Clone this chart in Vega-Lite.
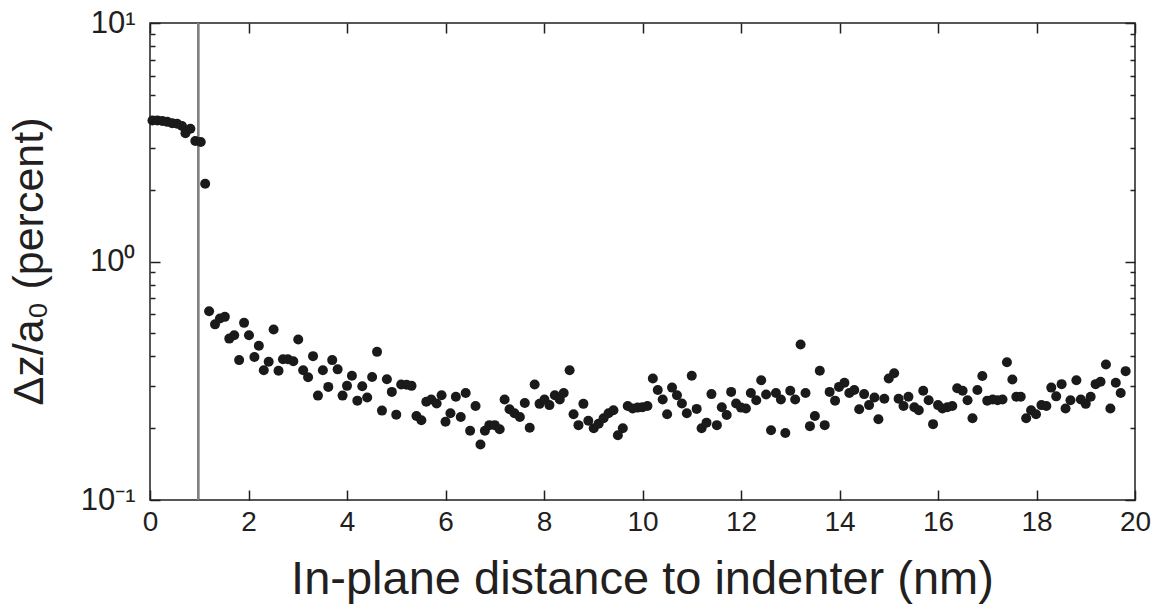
{
  "$schema": "https://vega.github.io/schema/vega-lite/v6.json",
  "width": 985,
  "height": 477,
  "autosize": {"type": "none"},
  "padding": {"left": 150, "top": 23, "right": 27, "bottom": 104},
  "background": "white",
  "config": {
    "view": {"stroke": "#231f20", "strokeWidth": 1.5},
    "axis": {
      "labelFont": "Liberation Sans",
      "titleFont": "Liberation Sans",
      "grid": false,
      "domain": false,
      "labelFlush": false,
      "tickColor": "#231f20",
      "tickWidth": 1.5,
      "labelColor": "#231f20",
      "titleColor": "#231f20",
      "titleFontWeight": "normal"
    }
  },
  "data": {
    "values": [
      {"x": 0.05, "y": 3.9}, {"x": 0.15, "y": 3.9}, {"x": 0.25, "y": 3.88}, {"x": 0.35, "y": 3.85},
      {"x": 0.45, "y": 3.8}, {"x": 0.55, "y": 3.78}, {"x": 0.65, "y": 3.7}, {"x": 0.72, "y": 3.45},
      {"x": 0.82, "y": 3.6}, {"x": 0.92, "y": 3.2}, {"x": 1.03, "y": 3.17}, {"x": 1.12, "y": 2.12},
      {"x": 1.2, "y": 0.619}, {"x": 1.32, "y": 0.545}, {"x": 1.42, "y": 0.577}, {"x": 1.52, "y": 0.586},
      {"x": 1.61, "y": 0.475}, {"x": 1.71, "y": 0.491}, {"x": 1.81, "y": 0.386}, {"x": 1.91, "y": 0.553},
      {"x": 2.01, "y": 0.491}, {"x": 2.12, "y": 0.398}, {"x": 2.21, "y": 0.443}, {"x": 2.31, "y": 0.35},
      {"x": 2.41, "y": 0.38}, {"x": 2.51, "y": 0.519}, {"x": 2.61, "y": 0.348}, {"x": 2.7, "y": 0.389},
      {"x": 2.8, "y": 0.389}, {"x": 2.91, "y": 0.382}, {"x": 3.01, "y": 0.471}, {"x": 3.11, "y": 0.35},
      {"x": 3.21, "y": 0.327}, {"x": 3.31, "y": 0.401}, {"x": 3.41, "y": 0.274}, {"x": 3.51, "y": 0.35},
      {"x": 3.62, "y": 0.298}, {"x": 3.7, "y": 0.386}, {"x": 3.81, "y": 0.353}, {"x": 3.91, "y": 0.274},
      {"x": 4.0, "y": 0.301}, {"x": 4.1, "y": 0.332}, {"x": 4.21, "y": 0.261}, {"x": 4.31, "y": 0.3},
      {"x": 4.41, "y": 0.269}, {"x": 4.51, "y": 0.328}, {"x": 4.61, "y": 0.418}, {"x": 4.71, "y": 0.237},
      {"x": 4.81, "y": 0.321}, {"x": 4.91, "y": 0.284}, {"x": 5.0, "y": 0.228}, {"x": 5.1, "y": 0.305},
      {"x": 5.21, "y": 0.304}, {"x": 5.31, "y": 0.301}, {"x": 5.41, "y": 0.225}, {"x": 5.51, "y": 0.216},
      {"x": 5.61, "y": 0.258}, {"x": 5.71, "y": 0.264}, {"x": 5.82, "y": 0.254}, {"x": 5.92, "y": 0.275},
      {"x": 6.0, "y": 0.213}, {"x": 6.1, "y": 0.231}, {"x": 6.21, "y": 0.271}, {"x": 6.31, "y": 0.223},
      {"x": 6.41, "y": 0.281}, {"x": 6.5, "y": 0.195}, {"x": 6.61, "y": 0.248}, {"x": 6.71, "y": 0.171},
      {"x": 6.8, "y": 0.195}, {"x": 6.89, "y": 0.206}, {"x": 7.0, "y": 0.206}, {"x": 7.1, "y": 0.198},
      {"x": 7.2, "y": 0.264}, {"x": 7.3, "y": 0.24}, {"x": 7.4, "y": 0.231}, {"x": 7.51, "y": 0.223},
      {"x": 7.61, "y": 0.255}, {"x": 7.71, "y": 0.201}, {"x": 7.81, "y": 0.305}, {"x": 7.91, "y": 0.253},
      {"x": 8.01, "y": 0.264}, {"x": 8.11, "y": 0.25}, {"x": 8.22, "y": 0.275}, {"x": 8.32, "y": 0.264},
      {"x": 8.4, "y": 0.281}, {"x": 8.52, "y": 0.35}, {"x": 8.6, "y": 0.229}, {"x": 8.7, "y": 0.206},
      {"x": 8.8, "y": 0.253}, {"x": 8.9, "y": 0.215}, {"x": 9.01, "y": 0.2}, {"x": 9.11, "y": 0.209},
      {"x": 9.21, "y": 0.22}, {"x": 9.31, "y": 0.231}, {"x": 9.41, "y": 0.238}, {"x": 9.5, "y": 0.187},
      {"x": 9.6, "y": 0.2}, {"x": 9.7, "y": 0.248}, {"x": 9.8, "y": 0.242}, {"x": 9.9, "y": 0.244},
      {"x": 10.0, "y": 0.245}, {"x": 10.1, "y": 0.248}, {"x": 10.21, "y": 0.323}, {"x": 10.31, "y": 0.289},
      {"x": 10.41, "y": 0.264}, {"x": 10.5, "y": 0.229}, {"x": 10.6, "y": 0.296}, {"x": 10.7, "y": 0.275},
      {"x": 10.8, "y": 0.254}, {"x": 10.9, "y": 0.231}, {"x": 11.0, "y": 0.332}, {"x": 11.1, "y": 0.241},
      {"x": 11.2, "y": 0.2}, {"x": 11.3, "y": 0.211}, {"x": 11.4, "y": 0.278}, {"x": 11.51, "y": 0.206},
      {"x": 11.61, "y": 0.245}, {"x": 11.71, "y": 0.227}, {"x": 11.8, "y": 0.284}, {"x": 11.9, "y": 0.254},
      {"x": 12.0, "y": 0.244}, {"x": 12.1, "y": 0.242}, {"x": 12.2, "y": 0.281}, {"x": 12.31, "y": 0.262},
      {"x": 12.41, "y": 0.318}, {"x": 12.51, "y": 0.277}, {"x": 12.61, "y": 0.196}, {"x": 12.71, "y": 0.281},
      {"x": 12.81, "y": 0.264}, {"x": 12.9, "y": 0.191}, {"x": 13.0, "y": 0.287}, {"x": 13.1, "y": 0.264},
      {"x": 13.21, "y": 0.449}, {"x": 13.31, "y": 0.281}, {"x": 13.4, "y": 0.204}, {"x": 13.5, "y": 0.225},
      {"x": 13.6, "y": 0.348}, {"x": 13.7, "y": 0.206}, {"x": 13.8, "y": 0.284}, {"x": 13.91, "y": 0.261},
      {"x": 13.99, "y": 0.298}, {"x": 14.1, "y": 0.31}, {"x": 14.2, "y": 0.281}, {"x": 14.3, "y": 0.289},
      {"x": 14.4, "y": 0.24}, {"x": 14.5, "y": 0.278}, {"x": 14.6, "y": 0.25}, {"x": 14.71, "y": 0.269},
      {"x": 14.79, "y": 0.218}, {"x": 14.91, "y": 0.266}, {"x": 15.0, "y": 0.323}, {"x": 15.11, "y": 0.34},
      {"x": 15.2, "y": 0.266}, {"x": 15.3, "y": 0.248}, {"x": 15.4, "y": 0.271}, {"x": 15.52, "y": 0.245},
      {"x": 15.61, "y": 0.238}, {"x": 15.7, "y": 0.287}, {"x": 15.81, "y": 0.262}, {"x": 15.9, "y": 0.208},
      {"x": 16.0, "y": 0.25}, {"x": 16.09, "y": 0.242}, {"x": 16.19, "y": 0.245}, {"x": 16.29, "y": 0.248},
      {"x": 16.39, "y": 0.294}, {"x": 16.5, "y": 0.287}, {"x": 16.6, "y": 0.262}, {"x": 16.7, "y": 0.22},
      {"x": 16.8, "y": 0.289}, {"x": 16.9, "y": 0.331}, {"x": 17.0, "y": 0.261}, {"x": 17.11, "y": 0.264},
      {"x": 17.21, "y": 0.262}, {"x": 17.31, "y": 0.264}, {"x": 17.4, "y": 0.378}, {"x": 17.51, "y": 0.32},
      {"x": 17.59, "y": 0.271}, {"x": 17.68, "y": 0.271}, {"x": 17.79, "y": 0.22}, {"x": 17.89, "y": 0.238},
      {"x": 17.99, "y": 0.229}, {"x": 18.1, "y": 0.25}, {"x": 18.2, "y": 0.248}, {"x": 18.3, "y": 0.296},
      {"x": 18.4, "y": 0.272}, {"x": 18.51, "y": 0.306}, {"x": 18.59, "y": 0.242}, {"x": 18.69, "y": 0.262},
      {"x": 18.81, "y": 0.318}, {"x": 18.9, "y": 0.264}, {"x": 19.0, "y": 0.253}, {"x": 19.1, "y": 0.271},
      {"x": 19.2, "y": 0.306}, {"x": 19.3, "y": 0.313}, {"x": 19.41, "y": 0.37}, {"x": 19.5, "y": 0.242},
      {"x": 19.61, "y": 0.31}, {"x": 19.71, "y": 0.281}, {"x": 19.81, "y": 0.347}
    ]
  },
  "resolve": {"axis": {"x": "independent", "y": "independent"}},
  "layer": [
    {
      "mark": {"type": "rule", "color": "#808080", "strokeWidth": 1.5},
      "encoding": {
        "x": {
          "datum": 0.98,
          "type": "quantitative",
          "scale": {"domain": [0, 20], "nice": false, "zero": false},
          "axis": {"orient": "top", "values": [0, 2, 4, 6, 8, 10, 12, 14, 16, 18, 20], "tickSize": -10, "labels": false, "title": null}
        }
      }
    },
    {
      "mark": {"type": "circle", "size": 100, "color": "#1a1a1a", "opacity": 1},
      "encoding": {
        "x": {
          "field": "x",
          "type": "quantitative",
          "scale": {"domain": [0, 20], "nice": false, "zero": false},
          "axis": {
            "orient": "bottom",
            "values": [0, 2, 4, 6, 8, 10, 12, 14, 16, 18, 20],
            "tickSize": -10,
            "labelPadding": 18,
            "labelFontSize": 28,
            "title": "In-plane distance to indenter (nm)",
            "titleFontSize": 47,
            "titleX": 492,
            "titleY": 93,
            "titleBaseline": "alphabetic"
          }
        },
        "y": {
          "field": "y",
          "type": "quantitative",
          "scale": {"type": "log", "domain": [0.1, 10], "nice": false},
          "axis": {
            "orient": "left",
            "values": [0.1, 1, 10],
            "tickSize": -10,
            "labelPadding": 25,
            "labelFontSize": 31,
            "labelExpr": "datum.value >= 5 ? '10¹' : datum.value >= 0.5 ? '10⁰' : '10⁻¹'",
            "title": "Δz/a₀  (percent)",
            "titleFontSize": 43,
            "titleX": -108,
            "titleY": 238,
            "titleAngle": -90,
            "titleBaseline": "alphabetic"
          }
        }
      }
    },
    {
      "mark": {"type": "point", "opacity": 0},
      "encoding": {
        "y": {
          "field": "y",
          "type": "quantitative",
          "scale": {"type": "log", "domain": [0.1, 10], "nice": false},
          "axis": {"orient": "left", "values": [0.2, 0.3, 0.4, 0.5, 0.6, 0.7, 0.8, 0.9, 2, 3, 4, 5, 6, 7, 8, 9], "tickSize": -5, "labels": false, "title": null}
        }
      }
    },
    {
      "mark": {"type": "point", "opacity": 0},
      "encoding": {
        "y": {
          "field": "y",
          "type": "quantitative",
          "scale": {"type": "log", "domain": [0.1, 10], "nice": false},
          "axis": {"orient": "right", "values": [0.1, 1, 10], "tickSize": -10, "labels": false, "title": null}
        }
      }
    },
    {
      "mark": {"type": "point", "opacity": 0},
      "encoding": {
        "y": {
          "field": "y",
          "type": "quantitative",
          "scale": {"type": "log", "domain": [0.1, 10], "nice": false},
          "axis": {"orient": "right", "values": [0.2, 0.3, 0.4, 0.5, 0.6, 0.7, 0.8, 0.9, 2, 3, 4, 5, 6, 7, 8, 9], "tickSize": -5, "labels": false, "title": null}
        }
      }
    }
  ]
}
